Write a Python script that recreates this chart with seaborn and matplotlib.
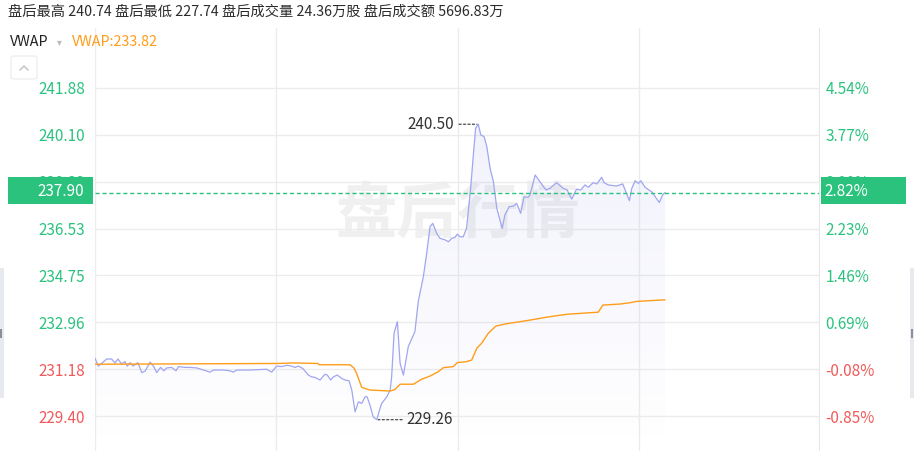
import matplotlib
matplotlib.use("Agg")
import matplotlib.pyplot as plt
import numpy as np
import pandas as pd
import seaborn as sns
from matplotlib.patches import Rectangle, FancyBboxPatch, Polygon
from matplotlib.lines import Line2D
from matplotlib.colors import LinearSegmentedColormap

# ---------------- data ----------------
price_minutes = [0, 1.1, 3.9, 5.5, 6.6, 7.6, 8.8, 9.9, 10.7, 11.6, 12.6, 14.2, 15.5, 16.6, 18.2,
                 19.5, 20.4, 21.7, 22.8, 23.7, 25.4, 26.8, 27.6, 29.8, 31.4, 33.7, 35.9, 38.1,
                 39.2, 42.5, 44.7, 45.8, 46.9, 51.3, 56.8, 58.5, 60.1, 61.8, 63.5, 65.1, 66.2,
                 67.3, 68.8, 70.6, 71.7, 72.8, 74.5, 76.1, 76.9, 78.0, 78.9, 80.2, 81.7, 82.8,
                 84.1, 85.0, 86.1, 87.2, 88.3, 89.4, 90.1, 91.0, 92.1, 93.3, 94.0, 94.9, 96.6,
                 97.7, 98.2, 99.0, 100.1, 101.0, 102.1, 103.7, 105.9, 107.0, 108.7, 109.8, 110.9,
                 111.8, 113.1, 114.2, 115.9, 117.0, 118.1, 119.2, 119.9, 120.8, 121.9, 123.0,
                 124.4, 125.2, 126.0, 126.9, 127.7, 128.8, 129.7, 130.8, 131.9, 133.0, 134.8,
                 135.7, 137.1, 138.5, 139.6, 140.9, 142.0, 143.4, 144.0, 145.7, 147.3, 149.3,
                 150.6, 152.8, 155.0, 156.3, 157.8, 159.4, 160.8, 162.2, 163.3, 164.9, 166.1,
                 166.9, 167.7, 168.5, 169.9, 172.7, 174.7, 176.9, 177.7, 178.8, 179.9, 180.7,
                 182.1, 184.3, 186.8, 187.9, 188.7]
price_values = [231.60, 231.30, 231.57, 231.57, 231.42, 231.57, 231.38, 231.47, 231.30, 231.43,
                231.30, 231.43, 231.05, 231.11, 231.45, 231.28, 231.05, 231.25, 231.12, 231.23,
                231.25, 231.12, 231.28, 231.25, 231.25, 231.23, 231.15, 231.07, 231.15, 231.15,
                231.12, 231.07, 231.15, 231.15, 231.18, 231.07, 231.30, 231.28, 231.33, 231.30,
                231.25, 231.30, 231.21, 230.96, 230.89, 230.87, 230.77, 230.99, 230.96, 230.77,
                230.89, 230.96, 230.83, 230.77, 230.74, 230.39, 229.56, 229.94, 229.88, 230.13,
                230.13, 229.82, 229.37, 229.26, 229.56, 229.88, 230.13, 230.39, 230.89, 232.55,
                232.99, 231.40, 230.96, 232.04, 232.61, 233.75, 234.70, 235.59, 236.60, 236.73,
                236.35, 236.16, 236.10, 236.03, 236.16, 236.20, 236.32, 236.22, 236.22, 236.54,
                238.12, 239.27, 240.35, 240.50, 240.09, 240.03, 239.65, 238.82, 238.31, 237.31,
                236.54, 237.05, 237.36, 237.39, 237.49, 237.11, 237.74, 237.72, 237.81, 238.57,
                238.31, 238.00, 238.06, 238.28, 238.06, 238.00, 237.65, 238.03, 238.00, 238.19,
                238.10, 238.28, 238.23, 238.35, 238.48, 238.28, 238.19, 238.15, 238.23, 237.59,
                238.06, 238.35, 238.25, 238.35, 238.10, 237.93, 237.52, 237.81, 237.90]

vwap_minutes = [0, 61.2, 65.5, 73.8, 74.2, 84.4, 85.7, 86.6, 88.3, 91.0, 97.7, 99.3, 101.0,
                105.4, 108.1, 110.9, 113.7, 115.3, 118.6, 119.9, 123.0, 124.7, 126.4, 128.0,
                130.2, 132.7, 135.7, 140.7, 144.0, 149.5, 156.1, 163.9, 166.6, 168.1, 173.8,
                177.1, 179.3, 188.7]
vwap_values = [231.37, 231.40, 231.42, 231.40, 231.35, 231.35, 231.23, 231.02, 230.49, 230.39,
               230.35, 230.41, 230.61, 230.61, 230.80, 230.92, 231.09, 231.24, 231.28, 231.43,
               231.47, 231.53, 231.98, 232.17, 232.55, 232.82, 232.90, 232.99, 233.05, 233.16,
               233.27, 233.33, 233.35, 233.62, 233.66, 233.71, 233.76, 233.82]

price_ticks = [241.88, 240.10, 238.32, 236.53, 234.75, 232.96, 231.18, 229.40]
price_tick_labels = ["241.88", "240.10", "238.32", "236.53", "234.75", "232.96", "231.18", "229.40"]
pct_tick_labels = ["4.54%", "3.77%", "3.00%", "2.23%", "1.46%", "0.69%", "-0.08%", "-0.85%"]
base_price = 231.37
last_price = 237.90
last_pct = "2.82%"
vwap_last = "233.82"
max_label = "240.50"
min_label = "229.26"

header_labels = ["盘后最高", "盘后最低", "盘后成交量", "盘后成交额"]
header_values = ["240.74", "227.74", "24.36万股", "5696.83万"]

# ---------------- style ----------------
sns.set_theme(style="white")
plt.rcParams["font.family"] = ["Noto Sans CJK SC", "DejaVu Sans"]

W, H = 914, 451
GREEN = "#2bc27e"
RED = "#f05a5a"
ORANGE = "#ff9d19"
LINE = "#a0a6ef"
GRID = "#ececec"
NUM = 11

def fx(x):
    return x / W

def fy(y):
    return 1 - y / H

fig = plt.figure(figsize=(W / 100, H / 100), dpi=100)
fig.patch.set_facecolor("white")
ax = fig.add_axes([95 / W, 0, 725 / W, 423 / H])
ax.set_facecolor("none")
ymin, ymax = 228.07, 244.16
ax.set_xlim(0, 240)
ax.set_ylim(ymin, ymax)

# watermark
ax.text(0.5007, 0.558, "盘后行情", transform=ax.transAxes, ha="center", va="center",
        fontsize=44, fontweight="bold", color="#f0f0f0", zorder=0.5)

df_price = pd.DataFrame({"minute": price_minutes, "price": price_values})
df_vwap = pd.DataFrame({"minute": vwap_minutes, "vwap": vwap_values})

# gradient fill under price line
poly_xy = list(zip(price_minutes, price_values)) + [(price_minutes[-1], ymin), (price_minutes[0], ymin)]
poly = Polygon(poly_xy, closed=True, facecolor="none", edgecolor="none")
ax.add_patch(poly)
cmap = LinearSegmentedColormap.from_list("fade", [(0.41, 0.43, 0.88, 0.0), (0.41, 0.43, 0.88, 0.09)])
grad = np.linspace(0, 1, 256).reshape(-1, 1)
im = ax.imshow(grad, cmap=cmap, aspect="auto", origin="lower",
               extent=[0, 240, ymin, max(price_values)], zorder=1)
im.set_clip_path(poly)

sns.lineplot(data=df_price, x="minute", y="price", ax=ax, color=LINE, linewidth=0.9,
             sort=False, zorder=3)
sns.lineplot(data=df_vwap, x="minute", y="vwap", ax=ax, color=ORANGE, linewidth=1.0,
             sort=False, zorder=4)

ax.axhline(last_price, color=GREEN, linewidth=1.0, dashes=(3, 2), zorder=5)

# grid
ax.set_yticks(price_ticks)
ax.set_yticklabels(price_tick_labels)
ax.set_xticks([0, 60, 120, 180, 240])
ax.set_xticklabels([])
ax.grid(True, color=GRID, linewidth=1.0)
ax.set_axisbelow(True)
for s in ax.spines.values():
    s.set_visible(False)
ax.tick_params(axis="y", length=0, pad=7, labelsize=NUM)
ax.tick_params(axis="x", length=0)
ax.set_xlabel("")
ax.set_ylabel("")
for lbl, v in zip(ax.get_yticklabels(), price_ticks):
    lbl.set_color(GREEN if v >= base_price else RED)

ax2 = ax.twinx()
ax2.set_ylim(ymin, ymax)
ax2.set_yticks(price_ticks)
ax2.set_yticklabels(pct_tick_labels)
ax2.tick_params(axis="y", length=0, pad=4, labelsize=NUM)
for s in ax2.spines.values():
    s.set_visible(False)
ax2.grid(False)
for lbl, v in zip(ax2.get_yticklabels(), price_ticks):
    lbl.set_color(GREEN if v >= base_price else RED)
ax2.axvline(240, color="#e6e6e6", linewidth=1.5)

# max / min annotations
imax = int(np.argmax(price_values))
imin = int(np.argmin(price_values))
ax.annotate(max_label, xy=(price_minutes[imax], price_values[imax]), xytext=(-24, 0),
            textcoords="offset pixels", ha="right", va="center", fontsize=NUM, color="#333333",
            arrowprops=dict(arrowstyle="-", linestyle=(0, (2, 2)), color="#333333", lw=0.8,
                            shrinkA=1, shrinkB=1), zorder=6)
ax.annotate(min_label, xy=(price_minutes[imin], price_values[imin]), xytext=(30, 0),
            textcoords="offset pixels", ha="left", va="center", fontsize=NUM, color="#333333",
            arrowprops=dict(arrowstyle="-", linestyle=(0, (2, 2)), color="#333333", lw=0.8,
                            shrinkA=1, shrinkB=1), zorder=6)

# last-price boxes
fig.patches.append(Rectangle((fx(8), fy(204)), (93 - 8) / W, 27 / H, transform=fig.transFigure,
                             facecolor=GREEN, edgecolor="none", zorder=5))
fig.patches.append(Rectangle((fx(821), fy(204)), (906 - 821) / W, 27 / H, transform=fig.transFigure,
                             facecolor=GREEN, edgecolor="none", zorder=5))
fig.text(fx(84), fy(191), f"{last_price:.2f}", ha="right", va="center", fontsize=NUM,
         color="white", zorder=6)
fig.text(fx(824), fy(191), last_pct, ha="left", va="center", fontsize=NUM, color="white", zorder=6)

# header
header = " ".join(f"{l} {v}" for l, v in zip(header_labels, header_values))
fig.text(fx(8), fy(12), header, ha="left", va="center", fontsize=10.25, color="#2b2b2b")
fig.text(fx(10), fy(42), "VWAP", ha="left", va="center", fontsize=10.3, color="#222222")
fig.text(fx(57), fy(42), "▾", ha="left", va="center", fontsize=7, color="#bbbbbb",
         family=["DejaVu Sans"])
fig.text(fx(72), fy(42), f"VWAP:{vwap_last}", ha="left", va="center", fontsize=10.3, color=ORANGE)

# collapse button
fig.patches.append(FancyBboxPatch((fx(11), fy(79)), 26 / W, 23 / H, transform=fig.transFigure,
                                  boxstyle="round,pad=0,rounding_size=0.004",
                                  facecolor="white", edgecolor="#eeeeee", linewidth=1, zorder=5))
fig.add_artist(Line2D([fx(20), fx(24), fx(28)], [fy(70), fy(66), fy(70)], color="#c8c8c8",
                      linewidth=1.2, transform=fig.transFigure, zorder=7))

# scroll handles on both edges
for x0 in (0, 910):
    fig.patches.append(Rectangle((fx(x0), fy(398)), 4 / W, 130 / H, transform=fig.transFigure,
                                 facecolor="#e6e9ee", edgecolor="none", zorder=5))
fig.patches.append(Rectangle((fx(0), fy(338)), 2 / W, 9 / H, transform=fig.transFigure,
                             facecolor="#8a8f99", edgecolor="none", zorder=6))
fig.patches.append(Rectangle((fx(911), fy(338)), 2 / W, 9 / H, transform=fig.transFigure,
                             facecolor="#8a8f99", edgecolor="none", zorder=6))

fig.savefig("out.png", dpi=100, facecolor="white")
